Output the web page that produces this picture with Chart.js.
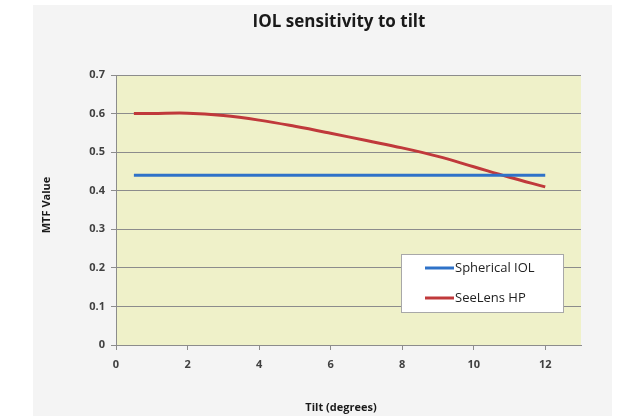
<!DOCTYPE html>
<html>
<head>
<meta charset="utf-8">
<script src="https://cdn.jsdelivr.net/npm/chart.js@4.4.1/dist/chart.umd.min.js"></script>
<style>
  html, body { margin: 0; padding: 0; background: #fff; }
  #wrap { width: 620px; height: 416px; }
</style>
</head>
<body>
<div id="wrap"><canvas id="chart" width="620" height="416"></canvas></div>
<script>
const tilt = [0.5, 1, 2, 3, 4, 5, 6, 7, 8, 9, 10, 11, 12];
const sphericalIOL = [0.44, 0.44, 0.44, 0.44, 0.44, 0.44, 0.44, 0.44, 0.44, 0.44, 0.44, 0.44, 0.44];
const seeLensHP = [0.600, 0.600, 0.601, 0.595, 0.583, 0.567, 0.549, 0.530, 0.511, 0.489, 0.462, 0.435, 0.410];
const xTicks = [0, 2, 4, 6, 8, 10, 12];
const yTicks = [0, 0.1, 0.2, 0.3, 0.4, 0.5, 0.6, 0.7];

const toPoints = (xs, ys) => xs.map((x, i) => ({ x: x, y: ys[i] }));

// backdrop, plot fill, titles and the boxed legend
const decor = {
  id: 'decor',
  beforeDraw(chart) {
    const ctx = chart.ctx;
    const a = chart.chartArea;
    ctx.save();
    ctx.fillStyle = '#f4f4f4';
    ctx.fillRect(33, 5, 579, 411);
    ctx.fillStyle = '#eff1c9';
    ctx.fillRect(a.left, a.top, a.right - a.left, a.bottom - a.top);
    ctx.restore();
  },
  afterDraw(chart) {
    const ctx = chart.ctx;
    ctx.save();
    ctx.fillStyle = '#1a1a1a';
    ctx.textAlign = 'center';
    ctx.textBaseline = 'middle';
    ctx.font = "bold 17px 'Open Sans', sans-serif";
    ctx.fillText('IOL sensitivity to tilt', 339, 22);
    ctx.font = "bold 11px 'Open Sans', sans-serif";
    ctx.fillText('Tilt (degrees)', 341, 408);
    ctx.translate(47, 205);
    ctx.rotate(-Math.PI / 2);
    ctx.fillText('MTF Value', 0, 0);
    ctx.restore();

    // legend
    ctx.save();
    ctx.fillStyle = '#ffffff';
    ctx.strokeStyle = '#a8a8a8';
    ctx.lineWidth = 1;
    ctx.fillRect(401, 254, 162, 58);
    ctx.strokeRect(401.5, 254.5, 162, 58);
    ctx.font = "13px 'Open Sans', sans-serif";
    ctx.textBaseline = 'middle';
    ctx.textAlign = 'left';
    chart.data.datasets.forEach((ds, i) => {
      const y = 268 + i * 30;
      ctx.strokeStyle = ds.borderColor;
      ctx.lineWidth = 3;
      ctx.beginPath();
      ctx.moveTo(425, y);
      ctx.lineTo(454, y);
      ctx.stroke();
      ctx.fillStyle = '#222';
      ctx.fillText(ds.label, 455, y);
    });
    ctx.restore();
  }
};

new Chart(document.getElementById('chart'), {
  type: 'line',
  data: {
    datasets: [{
      label: 'Spherical IOL',
      data: toPoints(tilt, sphericalIOL),
      borderColor: '#2f72c8',
      borderWidth: 3,
      pointRadius: 0,
      fill: false
    }, {
      label: 'SeeLens HP',
      data: toPoints(tilt, seeLensHP),
      borderColor: '#c0393b',
      borderWidth: 3,
      pointRadius: 0,
      tension: 0.4,
      fill: false
    }]
  },
  options: {
    responsive: false,
    animation: false,
    layout: { padding: { left: 33, top: 75, right: 39, bottom: 0 } },
    plugins: {
      legend: { display: false },
      tooltip: { enabled: false }
    },
    scales: {
      x: {
        type: 'linear',
        min: 0,
        max: 13,
        afterBuildTicks: (scale) => { scale.ticks = xTicks.map(v => ({ value: v })); },
        afterFit: (scale) => { scale.height = 71; },
        grid: { drawOnChartArea: false, drawTicks: true, tickLength: 5, color: '#8c8c8c' },
        border: { display: true, color: '#8c8c8c', width: 1 },
        ticks: {
          padding: 8,
          color: '#404040',
          font: { family: "'Open Sans', sans-serif", size: 11, weight: 'bold' }
        }
      },
      y: {
        min: 0,
        max: 0.7,
        afterBuildTicks: (scale) => { scale.ticks = yTicks.map(v => ({ value: v })); },
        afterFit: (scale) => { scale.width = 83; },
        grid: { color: '#8c8c8c', lineWidth: 1, tickLength: 5 },
        border: { display: true, color: '#8c8c8c', width: 1 },
        ticks: {
          padding: 6,
          color: '#404040',
          font: { family: "'Open Sans', sans-serif", size: 11, weight: 'bold' },
          callback: (v) => String(Math.round(v * 10) / 10)
        }
      }
    }
  },
  plugins: [decor]
});
</script>
</body>
</html>
